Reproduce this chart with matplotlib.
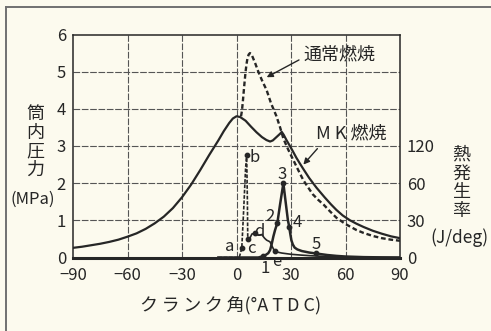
import matplotlib
matplotlib.use("Agg")
import matplotlib.pyplot as plt
from matplotlib.lines import Line2D

plt.rcParams['font.family'] = ['Noto Sans CJK JP', 'DejaVu Sans']

# ---- data ----
mk_p_deg = [-90, -85, -80, -75, -70, -65, -60, -55, -50, -45, -40, -35, -30, -25, -20, -15,
            -10, -7, -4, -2, 0, 2, 5, 8, 11, 14, 16.5, 18.5, 20, 22, 24, 24.9, 26, 27.5,
            29.4, 31, 33, 35, 36.8, 40, 44, 48.5, 52, 55, 58.5, 62.5, 66, 70, 75, 80, 85, 90]
mk_p = [0.26, 0.29, 0.33, 0.37, 0.42, 0.48, 0.56, 0.65, 0.77, 0.92, 1.1, 1.33, 1.62, 1.96, 2.35, 2.76,
        3.15, 3.4, 3.62, 3.74, 3.8, 3.78, 3.68, 3.52, 3.37, 3.24, 3.16, 3.12, 3.15, 3.24, 3.33, 3.38, 3.3, 3.16,
        3.0, 2.86, 2.68, 2.52, 2.38, 2.14, 1.88, 1.62, 1.43, 1.28, 1.13, 1.0, 0.91, 0.82, 0.72, 0.64, 0.57, 0.52]

nc_p_deg = [2.5, 3, 3.5, 4, 4.5, 5, 5.5, 6, 6.7, 7.4, 8.2, 9, 10.5, 12, 14, 16.6, 19, 22, 24,
            25.8, 28.5, 31.3, 34, 36.8, 39.5, 42, 45, 48, 51.5, 55, 60, 66, 70, 75, 80, 85, 90]
nc_p = [3.8, 3.95, 4.2, 4.48, 4.75, 5.0, 5.2, 5.35, 5.46, 5.5, 5.47, 5.38, 5.2, 5.0, 4.77, 4.5, 4.15, 3.8, 3.5,
        3.2, 2.9, 2.62, 2.35, 2.08, 1.88, 1.7, 1.55, 1.42, 1.24, 1.07, 0.9, 0.74, 0.66, 0.58, 0.52, 0.48, 0.45]

# heat release rate (J/deg)
nc_spike_deg = [-10, 1.5, 2.9, 4.0, 5.0, 5.6, 6.0, 6.2]
nc_spike_q = [0, 0, 7.4, 40, 72, 83, 45, 14.7]
nc_tail_deg = [6.2, 7.5, 8.5, 10.2, 12, 13.9, 15.5, 16.6, 18.4, 20.3, 21, 23, 24.9, 30, 35, 40, 45, 51, 60, 70, 90]
nc_tail_q = [14.7, 16, 19, 19.5, 18, 18.5, 15.5, 14, 12.7, 7, 5, 4.2, 3.6, 2.6, 2, 1.5, 1.1, 0.8, 0.3, 0.1, 0]

mk_q_deg = [-10, 12, 14.5, 16, 17.5, 18.5, 19.4, 20.3, 21.2, 22.5, 24, 25.8, 27.2, 28.3, 29, 29.5,
            30.2, 31, 32, 33.5, 36, 40, 43.5, 47, 50, 55, 60, 70, 80, 90]
mk_q = [0, 0, 1.0, 2, 3.5, 6, 11, 17, 22, 28, 43, 60, 43, 30, 25, 20,
        14, 10.5, 8, 6.5, 5.2, 4, 3.3, 2.6, 2, 1.3, 0.8, 0.3, 0.1, 0]

nc_pts_label = ['a', 'b', 'c', 'd', 'e']
nc_pts_deg = [2.9, 5.6, 6.2, 10.2, 21]
nc_pts_q = [7.4, 83, 14.7, 19.5, 5]
nc_lbl_deg = [-3.6, 10.2, 8.0, 12.3, 22.1]
nc_lbl_q = [8.5, 81, 7.5, 21, -3.6]

mk_pts_label = ['1', '2', '3', '4', '5']
mk_pts_deg = [14.5, 22.5, 25.8, 29, 43.5]
mk_pts_q = [1.0, 28, 60, 25, 3.3]
mk_lbl_deg = [15.7, 18.4, 24.9, 33.3, 44.1]
mk_lbl_q = [-8.5, 33, 67, 28, 10.5]

x_ticks = [-90, -60, -30, 0, 30, 60, 90]
x_ticklabels = ['−90', '−60', '−30', '0', '30', '60', '90']
y_ticks = [0, 1, 2, 3, 4, 5, 6]
q_ticks = [0, 30, 60, 90]
q_ticklabels = ['0', '30', '60', '120']

bg = '#fcfaee'
ink = '#262626'

fig = plt.figure(figsize=(4.91, 3.31), dpi=100, facecolor=bg)
ax = fig.add_axes([73/491, 1-257.5/331, 327/491, 223/331])
ax.set_facecolor(bg)
ax.set_xlim(-90, 90)
ax.set_ylim(0, 6)

for xv in [-60, -30, 0, 30, 60]:
    ax.axvline(xv, color='#555555', lw=0.8, ls=(0, (6, 1.5)), zorder=1)
for yv in [1, 2, 3, 4, 5]:
    ax.axhline(yv, color='#555555', lw=0.8, ls=(0, (6, 1.5)), zorder=1)

ax.plot(mk_p_deg, mk_p, color=ink, lw=1.6, zorder=3)
ax.plot(nc_p_deg, nc_p, color=ink, lw=1.7, ls=(0, (2.0, 1.2)), zorder=3)

ax.set_xticks(x_ticks)
ax.set_xticklabels(x_ticklabels)
ax.set_yticks(y_ticks)
ax.tick_params(axis='both', length=0, labelsize=12, colors=ink)
ax.tick_params(axis='x', pad=7)
ax.tick_params(axis='y', pad=5)
for s in ax.spines.values():
    s.set_color(ink)
    s.set_linewidth(1.1)
ax.spines['bottom'].set_linewidth(2.2)

ax2 = ax.twinx()
ax2.set_ylim(0, 180)
ax2.set_yticks(q_ticks)
ax2.set_yticklabels(q_ticklabels)
ax2.tick_params(axis='y', length=0, labelsize=12, colors=ink, pad=5)
for s in ax2.spines.values():
    s.set_visible(False)

ax2.plot(nc_spike_deg, nc_spike_q, color=ink, lw=1.2, ls=(0, (2.2, 1.0)), zorder=3)
ax2.plot(nc_tail_deg, nc_tail_q, color=ink, lw=1.2, zorder=3)
ax2.plot(mk_q_deg, mk_q, color=ink, lw=1.8, zorder=3)

ax2.scatter(nc_pts_deg, nc_pts_q, s=10, color=ink, zorder=4)
ax2.scatter(mk_pts_deg, mk_pts_q, s=10, color=ink, zorder=4)
for t, xv, yv in zip(nc_pts_label, nc_lbl_deg, nc_lbl_q):
    ax2.text(xv, yv, t, fontsize=12, color=ink, ha='center', va='center', clip_on=False)
for t, xv, yv in zip(mk_pts_label, mk_lbl_deg, mk_lbl_q):
    ax2.text(xv, yv, t, fontsize=12, color=ink, ha='center', va='center', clip_on=False)

ax.annotate('通常燃焼', xy=(16.6, 4.85), xytext=(36.6, 5.47), fontsize=13, color=ink,
            ha='left', va='center',
            arrowprops=dict(arrowstyle='-|>', color=ink, lw=1.0, mutation_scale=9,
                            shrinkA=1, shrinkB=0, relpos=(0, 0.3)))
ax.annotate('M K 燃焼', xy=(36.8, 2.5), xytext=(43.5, 3.33), fontsize=13, color=ink,
            ha='left', va='center',
            arrowprops=dict(arrowstyle='-|>', color=ink, lw=1.0, mutation_scale=9,
                            shrinkA=3, shrinkB=0, relpos=(0.1, 0.0)))

fig.text(35/491, 1-142/331, '筒\n内\n圧\n力', fontsize=13, color=ink, ha='center', va='center',
         linespacing=1.05)
fig.text(33/491, 1-199/331, '(MPa)', fontsize=12, color=ink, ha='center', va='center')
fig.text(461/491, 1-183/331, '熱\n発\n生\n率', fontsize=13, color=ink, ha='center', va='center',
         linespacing=1.05)
fig.text(459/491, 1-238/331, '(J/deg)', fontsize=12.5, color=ink, ha='center', va='center')
fig.text(231/491, 1-305/331, 'ク\u2009ラ\u2009ン\u2009ク\u2009角(°A T D C)', fontsize=13, color=ink,
         ha='center', va='center')

fig.add_artist(Line2D([6/491, 6/491], [0, 1-7/331], transform=fig.transFigure, color='#707070', lw=1.4))
fig.add_artist(Line2D([6/491, 1], [1-7/331, 1-7/331], transform=fig.transFigure, color='#707070', lw=1.4))

fig.savefig('out.png', dpi=100, facecolor=bg)
